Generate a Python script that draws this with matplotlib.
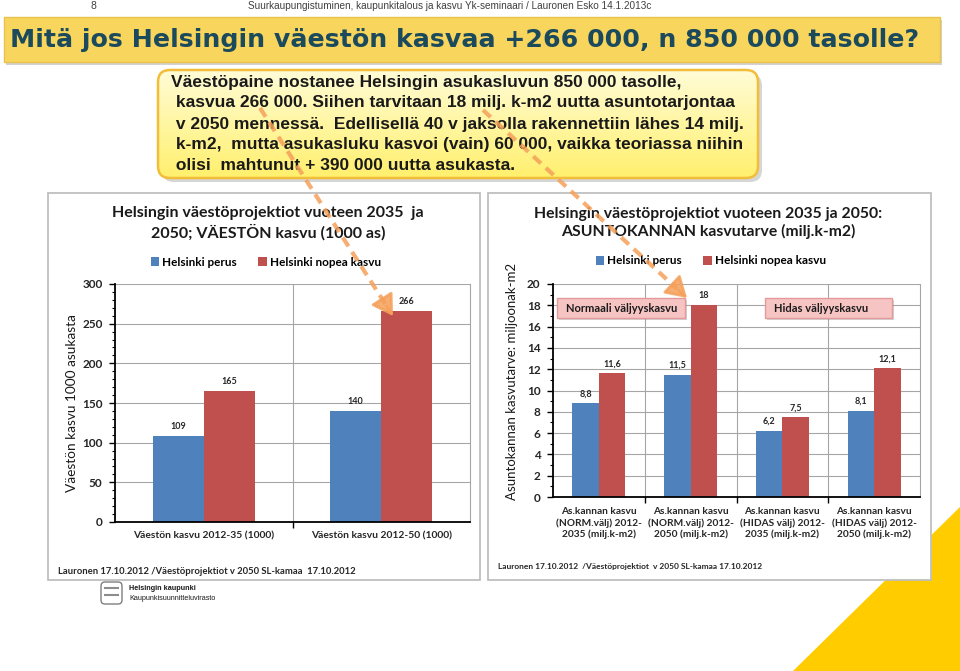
import numpy as np
import matplotlib.pyplot as plt
from matplotlib.patches import Rectangle, Polygon, FancyBboxPatch

W, H = 960, 671

page_no = "8"
header = "Suurkaupungistuminen, kaupunkitalous ja kasvu Yk-seminaari / Lauronen Esko 14.1.2013c"
title = "Mitä jos Helsingin väestön kasvaa +266 000, n 850 000 tasolle?"
callout = ["Väestöpaine nostanee Helsingin asukasluvun 850 000 tasolle,",
           " kasvua 266 000. Siihen tarvitaan 18 milj. k-m2 uutta asuntotarjontaa",
           " v 2050 mennessä.  Edellisellä 40 v jaksolla rakennettiin lähes 14 milj.",
           " k-m2,  mutta asukasluku kasvoi (vain) 60 000, vaikka teoriassa niihin",
           " olisi  mahtunut + 390 000 uutta asukasta."]

series = ["Helsinki perus", "Helsinki nopea kasvu"]
colors = ["#4F81BD", "#C0504D"]

pop_title = "Helsingin väestöprojektiot vuoteen 2035  ja\n2050; VÄESTÖN kasvu (1000 as)"
pop_ylabel = "Väestön kasvu 1000 asukasta"
pop_cats = ["Väestön kasvu 2012-35 (1000)", "Väestön kasvu 2012-50 (1000)"]
pop_perus = [109, 140]
pop_nopea = [165, 266]
pop_ticks = [0, 50, 100, 150, 200, 250, 300]
pop_source = "Lauronen 17.10.2012 /Väestöprojektiot v 2050 SL-kamaa  17.10.2012"

house_title = "Helsingin väestöprojektiot vuoteen 2035 ja 2050:\nASUNTOKANNAN kasvutarve (milj.k-m2)"
house_ylabel = "Asuntokannan kasvutarve: miljoonak-m2"
house_cats = ["As.kannan kasvu\n(NORM.välj) 2012-\n2035 (milj.k-m2)",
              "As.kannan kasvu\n(NORM.välj) 2012-\n2050 (milj.k-m2)",
              "As.kannan kasvu\n(HIDAS välj) 2012-\n2035 (milj.k-m2)",
              "As.kannan kasvu\n(HIDAS välj) 2012-\n2050 (milj.k-m2)"]
house_perus = [8.8, 11.5, 6.2, 8.1]
house_nopea = [11.6, 18, 7.5, 12.1]
house_ticks = [0, 2, 4, 6, 8, 10, 12, 14, 16, 18, 20]
house_notes = ["Normaali väljyyskasvu", "Hidas väljyyskasvu"]
house_source = "Lauronen 17.10.2012  /Väestöprojektiot  v 2050 SL-kamaa 17.10.2012"

org = ["Helsingin kaupunki", "Kaupunkisuunnitteluvirasto"]

CHART_FONT = "Lato"


def px_axes(fig, x0, y0, x1, y1, z):
    # pixel box (top-left origin) -> figure axes
    return fig.add_axes([x0 / W, 1 - y1 / H, (x1 - x0) / W, (y1 - y0) / H], zorder=z)


def overlay(fig, z):
    ax = fig.add_axes([0, 0, 1, 1], zorder=z)
    ax.set_xlim(0, W)
    ax.set_ylim(H, 0)
    ax.axis("off")
    ax.patch.set_alpha(0)
    return ax


def bar_chart(ax, cats, perus, nopea, ticks, minor, width, cat_fs, cat_pad):
    x = np.arange(len(cats))
    b1 = ax.bar(x - width / 2, perus, width, color=colors[0], zorder=3, label=series[0])
    b2 = ax.bar(x + width / 2, nopea, width, color=colors[1], zorder=3, label=series[1])
    for bars, vals in ((b1, perus), (b2, nopea)):
        for r, v in zip(bars, vals):
            ax.annotate(f"{v:g}".replace(".", ","), (r.get_x() + r.get_width() / 2, v),
                        xytext=(0, 3.5), textcoords="offset points", ha="center", va="bottom",
                        fontsize=6.5, fontweight="bold", color="#262626", family=CHART_FONT)
    ax.set_xlim(-0.5, len(cats) - 0.5)
    ax.set_ylim(ticks[0], ticks[-1])
    ax.set_yticks(ticks, [str(t) for t in ticks], fontweight="bold", fontsize=8.5,
                  family=CHART_FONT, color="#262626")
    ax.set_yticks(np.arange(ticks[0], ticks[-1], minor), minor=True)
    ax.set_xticks(x, cats, fontweight="bold", fontsize=cat_fs, family=CHART_FONT,
                  color="#262626", linespacing=1.3)
    ax.set_xticks(x[:-1] + 0.5, minor=True)
    ax.tick_params(axis="x", which="major", length=0, pad=cat_pad)
    ax.tick_params(axis="x", which="minor", length=4, width=1)
    ax.tick_params(axis="y", which="major", length=4, width=1, pad=5)
    ax.tick_params(axis="y", which="minor", length=2, width=0.8)
    ax.grid(axis="y", color="#A6A6A6", lw=0.8, zorder=0)
    for b in x + 0.5:
        ax.axvline(b, color="#A6A6A6", lw=0.8, zorder=0, clip_on=False)
    for s in ("top", "right"):
        ax.spines[s].set_visible(False)
    for s in ("left", "bottom"):
        ax.spines[s].set_linewidth(1.3)
        ax.spines[s].set_zorder(4)
    return b1, b2


fig = plt.figure(figsize=(W / 100, H / 100), dpi=100)
fig.patch.set_facecolor("white")

bg = overlay(fig, 0)

# header line
bg.text(93, 6, page_no, ha="center", va="center", fontsize=7.5, color="#404040",
        family="Liberation Sans")
bg.text(450, 6, header, ha="center", va="center", fontsize=7.2, color="#404040",
        family="Liberation Sans")

# title banner
bg.add_patch(Rectangle((6, 20), 936, 45, fc="#7F7F7F", ec="none", alpha=0.35))
bg.add_patch(Rectangle((4, 17), 936, 45, fc="#F8D55C", ec="#E8C24C", lw=1))
bg.text(465, 40, title, ha="center", va="center", fontsize=18.2, fontweight="bold",
        color="#1B4A5C", family="DejaVu Sans")

# callout box with vertical gradient
bg.add_patch(FancyBboxPatch((162, 74), 600, 108, boxstyle="round,pad=0,rounding_size=12",
                            fc="#8C8C8C", ec="none", alpha=0.35))
box = FancyBboxPatch((158, 70), 600, 108, boxstyle="round,pad=0,rounding_size=12",
                     fc="none", ec="#F2BE3A", lw=1.8, zorder=3)
bg.add_patch(box)
top = np.array([255, 252, 214]) / 255
bot = np.array([255, 240, 110]) / 255
t = np.linspace(0, 1, 64)[:, None, None]
grad = top * (1 - t) + bot * t
im = bg.imshow(grad, extent=(158, 758, 178, 70), aspect="auto", zorder=2)
im.set_clip_path(box)
bg.set_xlim(0, W)
bg.set_ylim(H, 0)
for i, line in enumerate(callout):
    bg.text(171, 82 + i * 21, line, ha="left", va="center", fontsize=12.55, fontweight="bold",
            color="#1A1A1A", family="Liberation Sans", zorder=4)

# yellow corner
bg.add_patch(Polygon([(793, 671), (960, 507), (960, 671)], closed=True, fc="#FFCC00", ec="none"))

# chart frames
bg.add_patch(Rectangle((48, 193), 432, 387, fc="white", ec="#BFBFBF", lw=1.3, zorder=2))
bg.add_patch(Rectangle((488, 193), 443, 387, fc="white", ec="#BFBFBF", lw=1.3, zorder=2))

# left chart: population growth
ax1 = px_axes(fig, 115, 284, 470, 522, 1)
ax1.patch.set_alpha(0)
h1 = bar_chart(ax1, pop_cats, pop_perus, pop_nopea, pop_ticks, 10, 0.287, 7.4, 7)
bg.text(268, 223, pop_title, ha="center", va="center", fontsize=11.5, fontweight="bold",
        family=CHART_FONT, color="#1A1A1A", linespacing=1.3, zorder=3)
bg.text(72, 403, pop_ylabel, ha="center", va="center", rotation=90, fontsize=9.8,
        family=CHART_FONT, color="#1A1A1A", zorder=3)
ax1.legend(h1, series, ncol=2, frameon=False, loc="center", bbox_to_anchor=(266 / W, 1 - 262 / H),
           bbox_transform=fig.transFigure, handlelength=0.7, handleheight=0.7, handletextpad=0.3,
           columnspacing=1.8, prop=dict(family=CHART_FONT, weight="bold", size=8.5))
bg.text(58, 571, pop_source, ha="left", va="center", fontsize=6.8, fontweight="bold",
        family=CHART_FONT, color="#262626", zorder=3)

# right chart: housing need
ax2 = px_axes(fig, 553, 284, 920, 497, 1)
ax2.patch.set_alpha(0)
h2 = bar_chart(ax2, house_cats, house_perus, house_nopea, house_ticks, 1, 0.29, 7.3, 7)
bg.text(708, 223, house_title, ha="center", va="center", fontsize=11.3, fontweight="bold",
        family=CHART_FONT, color="#1A1A1A", linespacing=1.3, zorder=3)
bg.text(512, 381, house_ylabel, ha="center", va="center", rotation=90, fontsize=9.5,
        family=CHART_FONT, color="#1A1A1A", zorder=3)
ax2.legend(h2, series, ncol=2, frameon=False, loc="center", bbox_to_anchor=(711 / W, 1 - 261 / H),
           bbox_transform=fig.transFigure, handlelength=0.7, handleheight=0.7, handletextpad=0.3,
           columnspacing=1.8, prop=dict(family=CHART_FONT, weight="bold", size=8.5))
bg.text(498, 567, house_source, ha="left", va="center", fontsize=6, fontweight="bold",
        family=CHART_FONT, color="#262626", zorder=3)

# city logo
bg.add_patch(FancyBboxPatch((101, 582), 21, 22, boxstyle="round,pad=0,rounding_size=4",
                            fc="white", ec="#7F7F7F", lw=1, zorder=3))
bg.plot([105, 118], [588, 588], color="#8C8C8C", lw=1.5, zorder=4)
bg.plot([105, 118], [595, 595], color="#8C8C8C", lw=1.5, zorder=4)
bg.text(129, 589, org[0], ha="left", va="center", fontsize=5.2, fontweight="bold",
        color="#1A1A1A", family="Liberation Sans", zorder=3)
bg.text(129, 598, org[1], ha="left", va="center", fontsize=5.2, color="#1A1A1A",
        family="Liberation Sans", zorder=3)

fg = overlay(fig, 5)

# pink note boxes in right chart
for (x0, y0, x1, y1), note in zip([(557, 298, 685, 318), (765, 298, 892, 318)], house_notes):
    fg.add_patch(Rectangle((x0 + 2, y0 + 2), x1 - x0, y1 - y0, fc="#7F7F7F", ec="none", alpha=0.35))
    fg.add_patch(Rectangle((x0, y0), x1 - x0, y1 - y0, fc="#F7C4C4", ec="#E39A9A", lw=1))
    fg.text(x0 + 9, (y0 + y1) / 2, note, ha="left", va="center", fontsize=8, fontweight="bold",
            family=CHART_FONT, color="#1A1A1A")

# dashed orange arrows from the text to the bars
arrow_col = "#F5A05A"
for (xs, ys), (xe, ye) in [((260, 108), (393, 316)), ((483, 110), (687, 298))]:
    d = np.hypot(xe - xs, ye - ys)
    xm, ym = xe - (xe - xs) * 14 / d, ye - (ye - ys) * 14 / d
    fg.plot([xs, xm], [ys, ym], color=arrow_col, lw=3, dashes=(2.5, 1.6), alpha=0.85,
            solid_capstyle="butt", dash_capstyle="butt")
    fg.annotate("", xy=(xe, ye), xytext=(xm + (xe - xs) * 2 / d, ym + (ye - ys) * 2 / d),
                arrowprops=dict(arrowstyle="-|>,head_length=0.9,head_width=0.55", color=arrow_col,
                                lw=2, shrinkA=0, shrinkB=0, mutation_scale=14, alpha=0.85))

fig.savefig("out.png", dpi=100)
